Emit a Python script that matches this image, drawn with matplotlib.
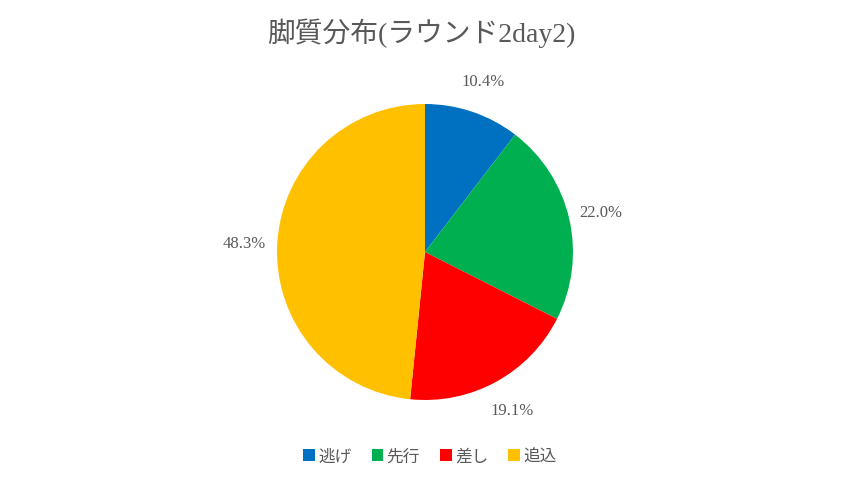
import matplotlib
matplotlib.use("Agg")
import matplotlib.pyplot as plt

# data
styles = ["逃げ", "先行", "差し", "追込"]
shares = [10.4, 22.0, 19.1, 48.3]
share_labels = ["10.4%", "22.0%", "19.1%", "48.3%"]
colors = ["#0070C0", "#00B050", "#FF0000", "#FFC000"]

text_color = "#595959"
fonts = ["Liberation Serif", "Noto Sans CJK JP"]
plt.rcParams["font.family"] = fonts

fig = plt.figure(figsize = (8.43, 4.89), dpi = 100)
ax = fig.add_axes([277 / 843, 88 / 489, 296 / 843, 296 / 489])

wedges, _, pct_texts = ax.pie(shares, colors = colors, startangle = 90, counterclock = False,
                              autopct = "%1.1f%%", pctdistance = 1.22,
                              textprops = {"color": text_color, "fontsize": 12})
for t, s in zip(pct_texts, share_labels):
    t.set_text(s)
ax.set_xlim(-1, 1)
ax.set_ylim(-1, 1)
ax.set_aspect("equal")

fig.text(0.5, 1 - 33 / 489, "脚質分布(ラウンド2day2)", ha = "center", va = "center",
         fontsize = 20, color = text_color, family = fonts)

fig.legend(wedges, styles, loc = "center", bbox_to_anchor = (0.51, 1 - 458 / 489), ncol = 4,
           frameon = False, fontsize = 12, labelcolor = text_color, handlelength = 0.7,
           handleheight = 0.7, handletextpad = 0.2, columnspacing = 1.2)

fig.savefig("out.png", dpi = 100)
